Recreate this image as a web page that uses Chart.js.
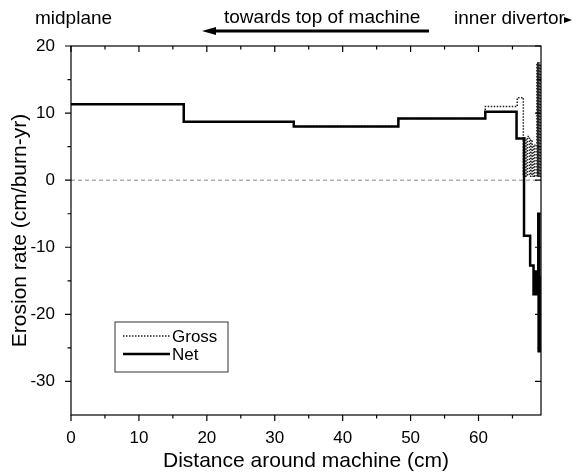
<!DOCTYPE html>
<html>
<head>
<meta charset="utf-8">
<script src="https://cdn.jsdelivr.net/npm/chart.js@4.4.1/dist/chart.umd.min.js"></script>
<style>
  html, body { margin: 0; background: #fff; }
  #wrap { width: 586px; height: 474px; }
</style>
</head>
<body>
<div id="wrap"><canvas id="erosionChart"></canvas></div>
<script>
// step start positions (cm) and the rate held until the next position
const netX = [0, 16.6, 32.8, 48.2, 61.0, 65.6, 66.7, 67.6, 68.1, 68.2, 68.3, 68.4, 68.5, 68.6, 68.8, 68.85, 68.9, 68.95, 69.0, 69.2];
const netRate = [11.3, 8.7, 8.0, 9.2, 10.2, 6.2, -8.3, -12.7, -17.0, -13.6, -17.0, -13.6, -17.0, -13.8, -5.0, -25.5, -5.0, -14.5, -25.5, -25.5];

const grossX = [0, 16.6, 32.8, 48.2, 61.0, 65.7, 66.6, 66.8, 67.0, 67.2, 67.5, 67.7, 67.9, 68.1, 68.3, 68.6, 68.7, 68.8, 68.9, 69.0, 69.1, 69.2];
const grossRate = [11.3, 8.7, 8.0, 9.2, 11.0, 12.3, 0.6, 6.3, 0.6, 6.5, 0.6, 6.0, 0.6, 5.2, 0.6, 17.5, 0.6, 17.5, 0.6, 17.3, 0.6, 0.6];

const xTicks = [0, 10, 20, 30, 40, 50, 60];
const xMinor = [5, 15, 25, 35, 45, 55, 65];
const yTicks = [-30, -20, -10, 0, 10, 20];
const yMinor = [-25, -15, -5, 5, 15];

const FONT = '"Liberation Sans", Arial, sans-serif';

const toPoints = (xs, ys) => xs.map((x, i) => ({x: x, y: ys[i]}));

// zero reference line, drawn under the data
const zeroLine = {
    id: 'zeroLine',
    beforeDatasetsDraw(chart) {
        const {ctx, chartArea: a, scales: {y}} = chart;
        const py = y.getPixelForValue(0);
        ctx.save();
        ctx.strokeStyle = '#888';
        ctx.lineWidth = 1;
        ctx.setLineDash([4, 3]);
        ctx.beginPath();
        ctx.moveTo(a.left, py);
        ctx.lineTo(a.right, py);
        ctx.stroke();
        ctx.restore();
    }
};

// box frame with major/minor ticks on all four sides
const frameTicks = {
    id: 'frameTicks',
    afterDraw(chart) {
        const {ctx, chartArea: a, scales: {x, y}} = chart;
        ctx.save();
        ctx.strokeStyle = '#000';
        ctx.lineWidth = 1.2;
        ctx.strokeRect(a.left, a.top, a.right - a.left, a.bottom - a.top);
        ctx.beginPath();
        const xt = (v, len) => {
            const px = x.getPixelForValue(v);
            ctx.moveTo(px, a.bottom); ctx.lineTo(px, a.bottom + len);
            ctx.moveTo(px, a.top); ctx.lineTo(px, a.top + len);
        };
        const yt = (v, len) => {
            const py = y.getPixelForValue(v);
            ctx.moveTo(a.left, py); ctx.lineTo(a.left - len, py);
            ctx.moveTo(a.right, py); ctx.lineTo(a.right - len, py);
        };
        xTicks.forEach(v => xt(v, 6));
        xMinor.forEach(v => xt(v, 3.5));
        yTicks.forEach(v => yt(v, 6));
        yMinor.forEach(v => yt(v, 3.5));
        ctx.stroke();
        ctx.restore();
    }
};

// legend box inside the plot
const boxLegend = {
    id: 'boxLegend',
    afterDraw(chart) {
        const {ctx, chartArea: a} = chart;
        const left = a.left + 44, top = a.top + 276, w = 113, h = 50;
        ctx.save();
        ctx.strokeStyle = '#333';
        ctx.lineWidth = 1;
        ctx.strokeRect(left, top, w, h);
        ctx.font = '17px ' + FONT;
        ctx.fillStyle = '#000';
        ctx.textBaseline = 'middle';
        chart.data.datasets.forEach((ds, i) => {
            const ly = top + 14 + i * 18;
            ctx.strokeStyle = ds.borderColor;
            ctx.lineWidth = ds.borderWidth;
            ctx.setLineDash(ds.borderDash || []);
            ctx.beginPath();
            ctx.moveTo(left + 8, ly);
            ctx.lineTo(left + 55, ly);
            ctx.stroke();
            ctx.setLineDash([]);
            ctx.fillText(ds.label, left + 57, ly + 1);
        });
        ctx.restore();
    }
};

// labels and arrows above the plot
const topNotes = {
    id: 'topNotes',
    afterDraw(chart) {
        const {ctx} = chart;
        ctx.save();
        ctx.fillStyle = '#000';
        ctx.font = '19px ' + FONT;
        ctx.textBaseline = 'alphabetic';
        ctx.textAlign = 'left';
        ctx.fillText('midplane', 35, 24);
        ctx.fillText('towards top of machine', 224, 23);
        ctx.fillText('inner divertor', 454, 24);
        // long arrow pointing left
        ctx.strokeStyle = '#000';
        ctx.lineWidth = 3;
        ctx.beginPath();
        ctx.moveTo(429, 31);
        ctx.lineTo(212, 31);
        ctx.stroke();
        ctx.beginPath();
        ctx.moveTo(202, 31);
        ctx.lineTo(216, 27);
        ctx.lineTo(216, 35);
        ctx.closePath();
        ctx.fill();
        // small arrowhead after "inner divertor"
        ctx.beginPath();
        ctx.moveTo(572, 20);
        ctx.lineTo(564, 17);
        ctx.lineTo(564, 23);
        ctx.closePath();
        ctx.fill();
        ctx.restore();
    }
};

new Chart(document.getElementById('erosionChart'), {
    type: 'line',
    data: {
        datasets: [{
            label: 'Gross',
            data: toPoints(grossX, grossRate),
            borderColor: '#222',
            borderWidth: 1.5,
            borderDash: [1.5, 1.5],
            stepped: 'before',
            pointRadius: 0,
            fill: false,
            order: 1
        }, {
            label: 'Net',
            data: toPoints(netX, netRate),
            borderColor: '#000',
            borderWidth: 2.5,
            stepped: 'before',
            pointRadius: 0,
            fill: false,
            order: 0
        }]
    },
    options: {
        responsive: true,
        maintainAspectRatio: false,
        animation: false,
        layout: {padding: {top: 46, right: 45, left: 0, bottom: 0}},
        plugins: {
            legend: {display: false},
            tooltip: {enabled: false}
        },
        scales: {
            x: {
                type: 'linear',
                min: 0,
                max: 69.2,
                grid: {display: false},
                border: {display: false},
                afterBuildTicks: s => { s.ticks = xTicks.map(v => ({value: v})); },
                afterFit: s => { s.height = 59; },
                ticks: {color: '#000', font: {family: FONT, size: 17}, padding: 5, maxRotation: 0},
                title: {display: true, text: 'Distance around machine (cm)', color: '#000',
                        font: {family: FONT, size: 21}, padding: {top: 0, bottom: 0}}
            },
            y: {
                type: 'linear',
                min: -35,
                max: 20,
                grid: {display: false},
                border: {display: false},
                afterBuildTicks: s => { s.ticks = yTicks.map(v => ({value: v})); },
                afterFit: s => { s.width = 71; },
                ticks: {color: '#000', font: {family: FONT, size: 17}, padding: 8},
                title: {display: true, text: 'Erosion rate (cm/burn-yr)', color: '#000',
                        font: {family: FONT, size: 21}, padding: {top: 8, bottom: 0}}
            }
        }
    },
    plugins: [zeroLine, frameTicks, boxLegend, topNotes]
});
</script>
</body>
</html>
